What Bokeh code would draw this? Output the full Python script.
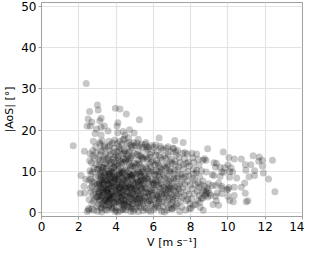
from bokeh.plotting import figure
from bokeh.models import Range1d, FixedTicker, ColumnDataSource
from bokeh.embed import file_html
from bokeh.resources import INLINE

# ---- data: (V [m/s], |AoS| [deg]), grouped by region ----
pts_sparse = [(1.7,16.2),(2.08,4.7),(2.12,9.0),(2.3,14.9),(2.32,4.8),(2.28,6.4),(2.37,8.1),(2.45,0.3),(2.53,0.7),
              (2.4,31.3),(2.45,21.0),(2.5,22.7),(2.58,24.5),(2.62,21.0),(2.7,22.0),(2.87,19.2),(2.95,20.3),(2.78,17.3),
              (3.0,26.1),(3.04,24.9),(3.12,22.3),(3.2,22.9),(3.2,20.7),(3.2,18.8),(3.12,17.0),(3.37,21.0),(3.57,19.8),
              (3.63,17.3),(3.96,25.3),(4.21,25.1),(4.55,23.9),(4.1,21.8),(4.05,21.0),(4.08,19.4),(4.38,19.7),(4.72,20.1),
              (4.97,19.3),(4.47,18.8),(4.67,18.2),(5.19,17.8),(5.6,17.0),(6.31,18.1),(5.25,22.5),(4.38,17.7),(7.15,17.5),
              (7.6,17.0),(7.07,15.7)]
pts_25 = [(2.52,1.0),(2.55,3.2),(2.6,14.3),(2.62,6.0),(2.65,9.4),(2.68,12.1),(2.7,2.2),(2.72,7.5),(2.75,15.0),(2.78,4.4),
          (2.8,10.8),(2.82,0.6),(2.85,13.2),(2.88,5.3),(2.9,8.6),(2.92,11.7),(2.95,3.8),(2.97,6.9),(2.99,1.5),(2.58,12.6),
          (2.66,4.9),(2.74,9.9),(2.84,7.2),(2.93,14.6),(2.6,10.2),(2.7,0.9),(2.8,2.9),(2.9,16.0),(2.96,5.8),(2.64,8.1),
          (2.76,13.8),(2.86,3.5),(2.54,7.9),(2.98,10.4),(2.71,6.4)]
pts_30 = [(3.02,0.4),(3.05,2.1),(3.08,4.6),(3.1,7.3),(3.12,9.8),(3.15,12.4),(3.18,14.9),(3.21,1.3),(3.24,3.7),(3.27,6.2),
          (3.3,8.5),(3.33,11.1),(3.36,13.6),(3.39,15.8),(3.42,0.8),(3.45,2.9),(3.48,5.4),(3.03,6.8),(3.06,8.9),(3.09,11.5),
          (3.13,13.9),(3.16,3.1),(3.19,5.6),(3.22,7.9),(3.25,10.2),(3.28,12.8),(3.31,2.4),(3.34,4.3),(3.37,6.7),(3.4,9.1),
          (3.43,11.9),(3.46,14.2),(3.49,7.6),(3.04,10.6),(3.11,5.1),(3.17,8.2),(3.23,0.2),(3.29,4.9),(3.35,9.6),(3.41,3.4),
          (3.47,10.7),(3.14,16.6),(3.26,17.4),(3.38,16.2),(3.07,13.0),(3.2,11.0),(3.32,6.0),(3.44,8.0),(3.5,5.0),(3.01,3.9),
          (3.26,15.2),(3.36,1.7),(3.46,12.9),(3.12,7.0),(3.22,4.2),(3.33,7.4),(3.43,5.9),(3.18,9.3),(3.29,10.9),(3.39,3.0)]
pts_35 = [(3.52,0.6),(3.55,2.6),(3.58,4.8),(3.61,7.1),(3.64,9.5),(3.67,11.8),(3.7,14.1),(3.73,1.6),(3.76,3.9),(3.79,6.3),
          (3.82,8.7),(3.85,11.0),(3.88,13.4),(3.91,15.6),(3.94,0.3),(3.97,2.7),(3.53,5.5),(3.56,7.8),(3.59,10.1),(3.62,12.6),
          (3.65,15.0),(3.68,3.3),(3.71,5.9),(3.74,8.2),(3.77,10.6),(3.8,12.9),(3.83,1.1),(3.86,4.5),(3.89,6.8),(3.92,9.2),
          (3.95,11.5),(3.98,14.0),(3.54,8.9),(3.6,3.0),(3.66,6.6),(3.72,10.0),(3.78,2.1),(3.84,7.5),(3.9,4.0),(3.96,8.0),
          (3.57,13.3),(3.69,16.4),(3.81,16.9),(3.93,17.6),(3.63,1.9),(3.75,12.2),(3.87,9.8),(3.99,5.2),(3.51,11.4),(3.7,4.4),
          (3.8,5.1),(3.9,2.3),(3.6,6.0),(3.85,14.7),(3.73,7.2),(3.65,8.4),(3.95,6.1),(3.58,15.9),(3.77,0.9),(3.88,10.9),
          (3.62,3.6),(3.82,3.5),(3.92,12.3),(3.68,9.0),(3.55,4.1)]
pts_40 = [(4.02,1.2),(4.05,3.4),(4.08,5.7),(4.11,8.0),(4.14,10.4),(4.17,12.7),(4.2,15.1),(4.23,0.5),(4.26,2.8),(4.29,5.0),
          (4.32,7.4),(4.35,9.7),(4.38,12.1),(4.41,14.5),(4.44,1.8),(4.47,4.2),(4.03,6.6),(4.06,9.0),(4.09,11.3),(4.12,13.7),
          (4.15,16.0),(4.18,2.3),(4.21,4.7),(4.24,7.0),(4.27,9.4),(4.3,11.8),(4.33,14.2),(4.36,0.9),(4.39,3.2),(4.42,5.6),
          (4.45,7.9),(4.48,10.3),(4.04,14.8),(4.1,0.2),(4.16,6.1),(4.22,10.9),(4.28,3.7),(4.34,8.5),(4.4,13.0),(4.46,6.3),
          (4.07,16.8),(4.19,17.3),(4.31,16.5),(4.43,17.9),(4.13,4.0),(4.25,12.4),(4.37,5.3),(4.49,12.9),(4.01,8.2),(4.2,8.8),
          (4.3,2.0),(4.4,9.9),(4.11,2.6),(4.35,6.8),(4.26,15.5),(4.45,15.0),(4.15,7.6),(4.05,11.9),(4.33,4.4),(4.23,5.9),
          (4.41,1.4),(4.09,13.3),(4.29,10.0),(4.47,3.0),(4.17,9.3)]
pts_45 = [(4.52,0.7),(4.55,3.0),(4.58,5.3),(4.61,7.7),(4.64,10.0),(4.67,12.4),(4.7,14.8),(4.73,2.0),(4.76,4.3),(4.79,6.7),
          (4.82,9.0),(4.85,11.4),(4.88,13.8),(4.91,16.1),(4.94,0.4),(4.97,2.9),(4.53,8.3),(4.56,10.7),(4.59,13.1),(4.62,15.5),
          (4.65,1.5),(4.68,3.8),(4.71,6.2),(4.74,8.6),(4.77,10.9),(4.8,13.3),(4.83,15.7),(4.86,1.0),(4.89,5.0),(4.92,7.3),
          (4.95,9.6),(4.98,12.0),(4.54,5.9),(4.6,2.4),(4.66,7.0),(4.72,11.6),(4.78,0.3),(4.84,4.6),(4.9,9.3),(4.96,14.4),
          (4.57,16.7),(4.69,17.1),(4.81,16.4),(4.93,17.0),(4.63,4.7),(4.75,13.0),(4.87,7.9),(4.99,5.5),(4.51,12.5),(4.7,9.2),
          (4.8,3.4),(4.9,11.2),(4.6,8.8),(4.85,6.0),(4.65,14.0),(4.75,6.1),(4.95,3.7),(4.55,14.3),(4.73,1.2),(4.88,2.2)]
pts_50 = [(5.02,0.9),(5.05,3.3),(5.08,5.6),(5.11,8.0),(5.14,10.3),(5.17,12.7),(5.2,15.0),(5.23,1.7),(5.26,4.1),(5.29,6.4),
          (5.32,8.8),(5.35,11.1),(5.38,13.5),(5.41,15.8),(5.44,0.5),(5.47,2.8),(5.03,7.1),(5.06,9.4),(5.09,11.8),(5.12,14.1),
          (5.15,2.2),(5.18,4.6),(5.21,6.9),(5.24,9.3),(5.27,11.7),(5.3,14.0),(5.33,1.2),(5.36,3.5),(5.39,5.9),(5.42,8.2),
          (5.45,10.6),(5.48,12.9),(5.04,16.3),(5.1,1.4),(5.16,7.6),(5.22,12.0),(5.28,2.6),(5.34,6.0),(5.4,10.0),(5.46,4.9),
          (5.13,16.9),(5.25,16.2),(5.37,16.6),(5.49,7.4),(5.07,4.0),(5.19,9.9),(5.31,4.4),(5.43,13.2),(5.01,11.0),(5.2,0.3),
          (5.3,7.7),(5.4,3.0),(5.1,6.3),(5.35,9.0),(5.25,13.7)]
pts_55 = [(5.52,1.3),(5.55,3.6),(5.58,6.0),(5.61,8.3),(5.64,10.7),(5.67,13.0),(5.7,15.4),(5.73,0.6),(5.76,2.9),(5.79,5.2),
          (5.82,7.6),(5.85,9.9),(5.88,12.3),(5.91,14.6),(5.94,1.8),(5.97,4.2),(5.53,6.5),(5.56,8.9),(5.59,11.2),(5.62,13.6),
          (5.65,16.0),(5.68,2.4),(5.71,4.7),(5.74,7.1),(5.77,9.4),(5.8,11.8),(5.83,14.1),(5.86,0.3),(5.89,3.3),(5.92,5.6),
          (5.95,8.0),(5.98,10.3),(5.54,4.0),(5.6,15.2),(5.66,5.8),(5.72,10.2),(5.78,13.4),(5.84,2.1),(5.9,6.8),(5.96,12.6),
          (5.57,16.6),(5.75,15.9),(5.93,16.3),(5.63,1.0),(5.81,4.5),(5.99,7.2),(5.69,8.6),(5.87,11.0),(5.51,9.7),(5.7,3.9)]
pts_60 = [(6.02,0.8),(6.05,3.2),(6.08,5.5),(6.11,7.9),(6.14,10.2),(6.17,12.6),(6.2,14.9),(6.23,1.6),(6.26,4.0),(6.29,6.3),
          (6.32,8.7),(6.35,11.0),(6.38,13.4),(6.41,15.6),(6.44,0.4),(6.47,2.7),(6.03,6.9),(6.06,9.3),(6.09,11.6),(6.12,14.0),
          (6.15,2.1),(6.18,4.5),(6.21,6.8),(6.24,9.2),(6.27,11.5),(6.3,13.9),(6.33,1.1),(6.36,3.4),(6.39,5.8),(6.42,8.1),
          (6.45,10.5),(6.48,12.8),(6.04,15.8),(6.1,1.3),(6.16,7.4),(6.22,12.0),(6.28,2.5),(6.34,5.0),(6.4,9.8),(6.46,4.6),
          (6.13,16.4),(6.25,7.7),(6.37,16.1),(6.19,3.6),(6.31,10.0)]
pts_65 = [(6.52,1.5),(6.55,3.8),(6.58,6.2),(6.61,8.5),(6.64,10.9),(6.67,13.2),(6.7,15.6),(6.73,0.7),(6.76,3.0),(6.79,5.4),
          (6.82,7.7),(6.85,10.1),(6.88,12.4),(6.91,14.8),(6.94,2.0),(6.97,4.4),(6.53,6.7),(6.56,9.1),(6.59,11.4),(6.62,13.8),
          (6.65,2.3),(6.68,4.7),(6.71,7.0),(6.74,9.4),(6.77,11.7),(6.8,14.1),(6.83,1.2),(6.86,3.5),(6.89,5.9),(6.92,8.2),
          (6.95,10.6),(6.98,12.9),(6.54,15.2),(6.6,0.2),(6.66,5.6),(6.72,11.0),(6.78,16.0),(6.84,6.5),(6.9,9.8),(6.96,1.0)]
pts_70 = [(7.02,0.9),(7.05,3.1),(7.08,5.5),(7.11,7.8),(7.14,10.2),(7.17,12.5),(7.2,14.7),(7.23,1.7),(7.26,4.1),(7.29,6.4),
          (7.32,8.8),(7.35,11.1),(7.38,13.4),(7.41,0.3),(7.44,2.8),(7.47,5.1),(7.04,7.0),(7.1,9.4),(7.16,11.7),(7.22,14.0),
          (7.28,2.2),(7.34,4.6),(7.4,6.9),(7.46,9.3),(7.07,15.5),(7.19,3.6),(7.31,10.4),(7.43,12.2),(7.13,1.3),(7.25,8.3),
          (7.37,5.8),(7.49,7.6),(7.01,12.0),(7.3,15.1),(7.15,6.2)]
pts_75 = [(7.52,1.4),(7.55,3.7),(7.58,6.0),(7.61,8.4),(7.64,10.7),(7.67,13.1),(7.7,14.6),(7.73,0.7),(7.76,2.9),(7.79,5.3),
          (7.82,7.6),(7.85,10.0),(7.88,12.3),(7.91,4.5),(7.94,1.0),(7.97,6.7),(7.54,9.2),(7.6,11.6),(7.66,4.2),(7.72,8.8),
          (7.78,12.0),(7.84,3.3),(7.9,9.0),(7.96,2.2),(7.57,14.4),(7.69,6.9),(7.81,14.2),(7.93,11.3)]
pts_80 = [(8.02,1.1),(8.05,3.4),(8.08,5.8),(8.11,8.3),(8.14,10.6),(8.17,12.2),(8.2,4.6),(8.23,6.8),(8.26,2.0),(8.29,9.6),
          (8.35,5.3),(8.38,3.0),(8.44,6.2),(8.47,4.1),(8.07,14.4),(8.12,13.3),(8.32,14.2),(8.41,12.9),(8.32,10.3),(8.49,8.8),
          (8.16,9.4),(8.21,7.9),(8.41,7.2),(8.49,2.5),(8.16,1.8),(8.45,11.5)]
pts_85 = [(8.58,10.2),(8.66,12.7),(8.83,12.7),(8.74,13.1),(8.91,15.5),(8.83,9.9),(8.66,7.7),(8.74,6.4),(8.95,5.5),(8.83,4.6),
          (8.83,5.1),(9.0,4.7),(8.66,3.6),(8.58,3.5),(8.7,5.4),(8.78,4.2),(8.88,6.0),(8.62,5.0),(8.55,6.8),(8.92,3.8),
          (8.52,1.3),(8.97,7.0),(8.68,0.6)]
pts_90 = [(9.08,4.2),(9.16,6.6),(9.16,9.2),(9.25,12.1),(9.25,9.0),(9.33,11.0),(9.33,6.6),(9.33,4.0),(9.38,12.0),(9.38,2.9),
          (9.42,4.8),(9.5,7.2),(9.58,11.0),(9.58,8.8),(9.67,9.9),(9.67,6.4),(9.67,5.9),(9.67,4.6),(9.75,14.7),(9.78,9.8),
          (9.83,10.9),(9.95,5.6),(10.0,11.6),(10.0,5.7),(10.0,4.0),(10.05,13.4),(10.05,6.1),(10.09,10.0),(10.09,8.6),(10.09,3.0),
          (10.17,10.9),(10.25,9.9),(10.29,2.7),(10.34,13.0),(10.34,6.2),(10.34,4.2),(10.47,8.4),(10.72,13.0),(10.72,6.2),(10.9,7.2),
          (10.93,11.6),(10.93,4.7),(10.96,10.3),(10.98,2.7),(11.07,2.9),(11.13,8.7),(11.23,11.6),(11.35,13.8),(11.43,10.2),(11.43,9.0),
          (11.65,12.5),(11.68,13.5),(11.85,12.7),(11.85,11.3),(11.9,9.6),(12.18,8.2),(12.39,12.7),(12.52,5.1),(9.5,1.8),(9.2,2.0)]
pts_core = [(3.05,5.2),(3.1,3.0),(3.15,6.5),(3.2,8.8),(3.25,2.0),(3.3,5.6),(3.35,7.9),(3.4,4.7),(3.45,9.5),(3.5,3.3),
            (3.55,6.9),(3.6,9.3),(3.65,4.3),(3.7,7.6),(3.75,5.0),(3.8,9.9),(3.85,2.6),(3.9,6.4),(3.95,8.6),(4.0,4.9),
            (4.05,7.3),(4.1,2.9),(4.15,5.5),(4.2,9.6),(4.25,3.8),(4.3,6.7),(4.35,4.1),(4.4,8.1),(4.45,2.4),(4.5,6.0),
            (4.55,8.9),(4.6,4.0),(4.65,6.4),(4.7,2.7),(4.75,9.4),(4.8,5.7),(4.85,8.2),(4.9,3.1),(4.95,6.6),(5.0,4.4),
            (5.05,8.5),(5.1,2.5),(5.15,5.2),(5.2,7.4),(5.25,3.6),(5.3,9.7),(5.35,5.4),(5.4,6.9),(5.45,2.1),(5.5,8.0),
            (3.12,4.0),(3.28,7.1),(3.44,1.9),(3.58,5.8),(3.74,3.4),(3.9,8.3),(4.06,4.5),(4.22,6.2),(4.38,2.2),(4.54,7.2),
            (4.7,4.6),(4.86,9.0),(5.02,5.9),(5.18,3.2),(5.34,7.8),(3.2,1.0),(3.6,1.3),(4.0,0.6),(4.4,0.8),(4.8,1.6),
            (6.7,3.9),(6.8,6.0),(6.9,4.8),(7.0,2.5),(7.1,8.5),(6.75,8.0),(6.95,6.3),(7.2,5.2),(6.6,4.4),(7.05,3.8),
            (5.6,5.0),(5.8,3.0),(6.0,6.0),(6.2,4.2),(6.4,7.0),(5.7,8.2),(5.9,4.8),(6.1,9.0),(6.3,3.0),(6.5,5.3)]

x_ticks = [0, 2, 4, 6, 8, 10, 12, 14]
y_ticks = [0, 10, 20, 30, 40, 50]

groups = [pts_sparse, pts_25, pts_30, pts_35, pts_40, pts_45, pts_50, pts_55,
          pts_60, pts_65, pts_70, pts_75, pts_80, pts_85, pts_90, pts_core]
v_all = [p[0] for g in groups for p in g]
aos_all = [p[1] for g in groups for p in g]
src = ColumnDataSource(dict(v=v_all, aos=aos_all))

p = figure(width=304, height=251, output_backend="svg", toolbar_location=None,
           x_range=Range1d(0, 14), y_range=Range1d(-0.9, 50.9),
           min_border_left=0, min_border_right=2, min_border_top=2, min_border_bottom=0)
p.background_fill_color = "white"
p.border_fill_color = "white"
p.outline_line_color = "#a0a0a0"
p.outline_line_width = 1

p.scatter("v", "aos", source=src, size=7, fill_color="black", fill_alpha=0.22,
          line_color=None)

for ax in (p.xaxis[0], p.yaxis[0]):
    ax.axis_line_color = "#a0a0a0"
    ax.major_tick_line_color = "#a0a0a0"
    ax.major_tick_out = 3
    ax.major_tick_in = 0
    ax.minor_tick_line_color = None
    ax.major_label_text_font = "DejaVu Sans"
    ax.major_label_text_font_size = "12px"
    ax.major_label_text_color = "black"
    ax.major_label_standoff = 2
    ax.axis_label_text_font = "DejaVu Sans"
    ax.axis_label_text_font_size = "11px"
    ax.axis_label_text_font_style = "normal"
    ax.axis_label_text_color = "black"
    ax.axis_label_standoff = 2

p.xaxis[0].ticker = FixedTicker(ticks=x_ticks)
p.yaxis[0].ticker = FixedTicker(ticks=y_ticks)
p.xaxis[0].axis_label = "V [m s\u207b\u00b9]"
p.yaxis[0].axis_label = "|AoS| [\u00b0]"

p.xgrid[0].ticker = FixedTicker(ticks=x_ticks)
p.ygrid[0].ticker = FixedTicker(ticks=y_ticks)
p.grid.grid_line_color = "#e3e3e3"
p.grid.grid_line_width = 1.2

open("out.html", "w").write(file_html(p, INLINE))
